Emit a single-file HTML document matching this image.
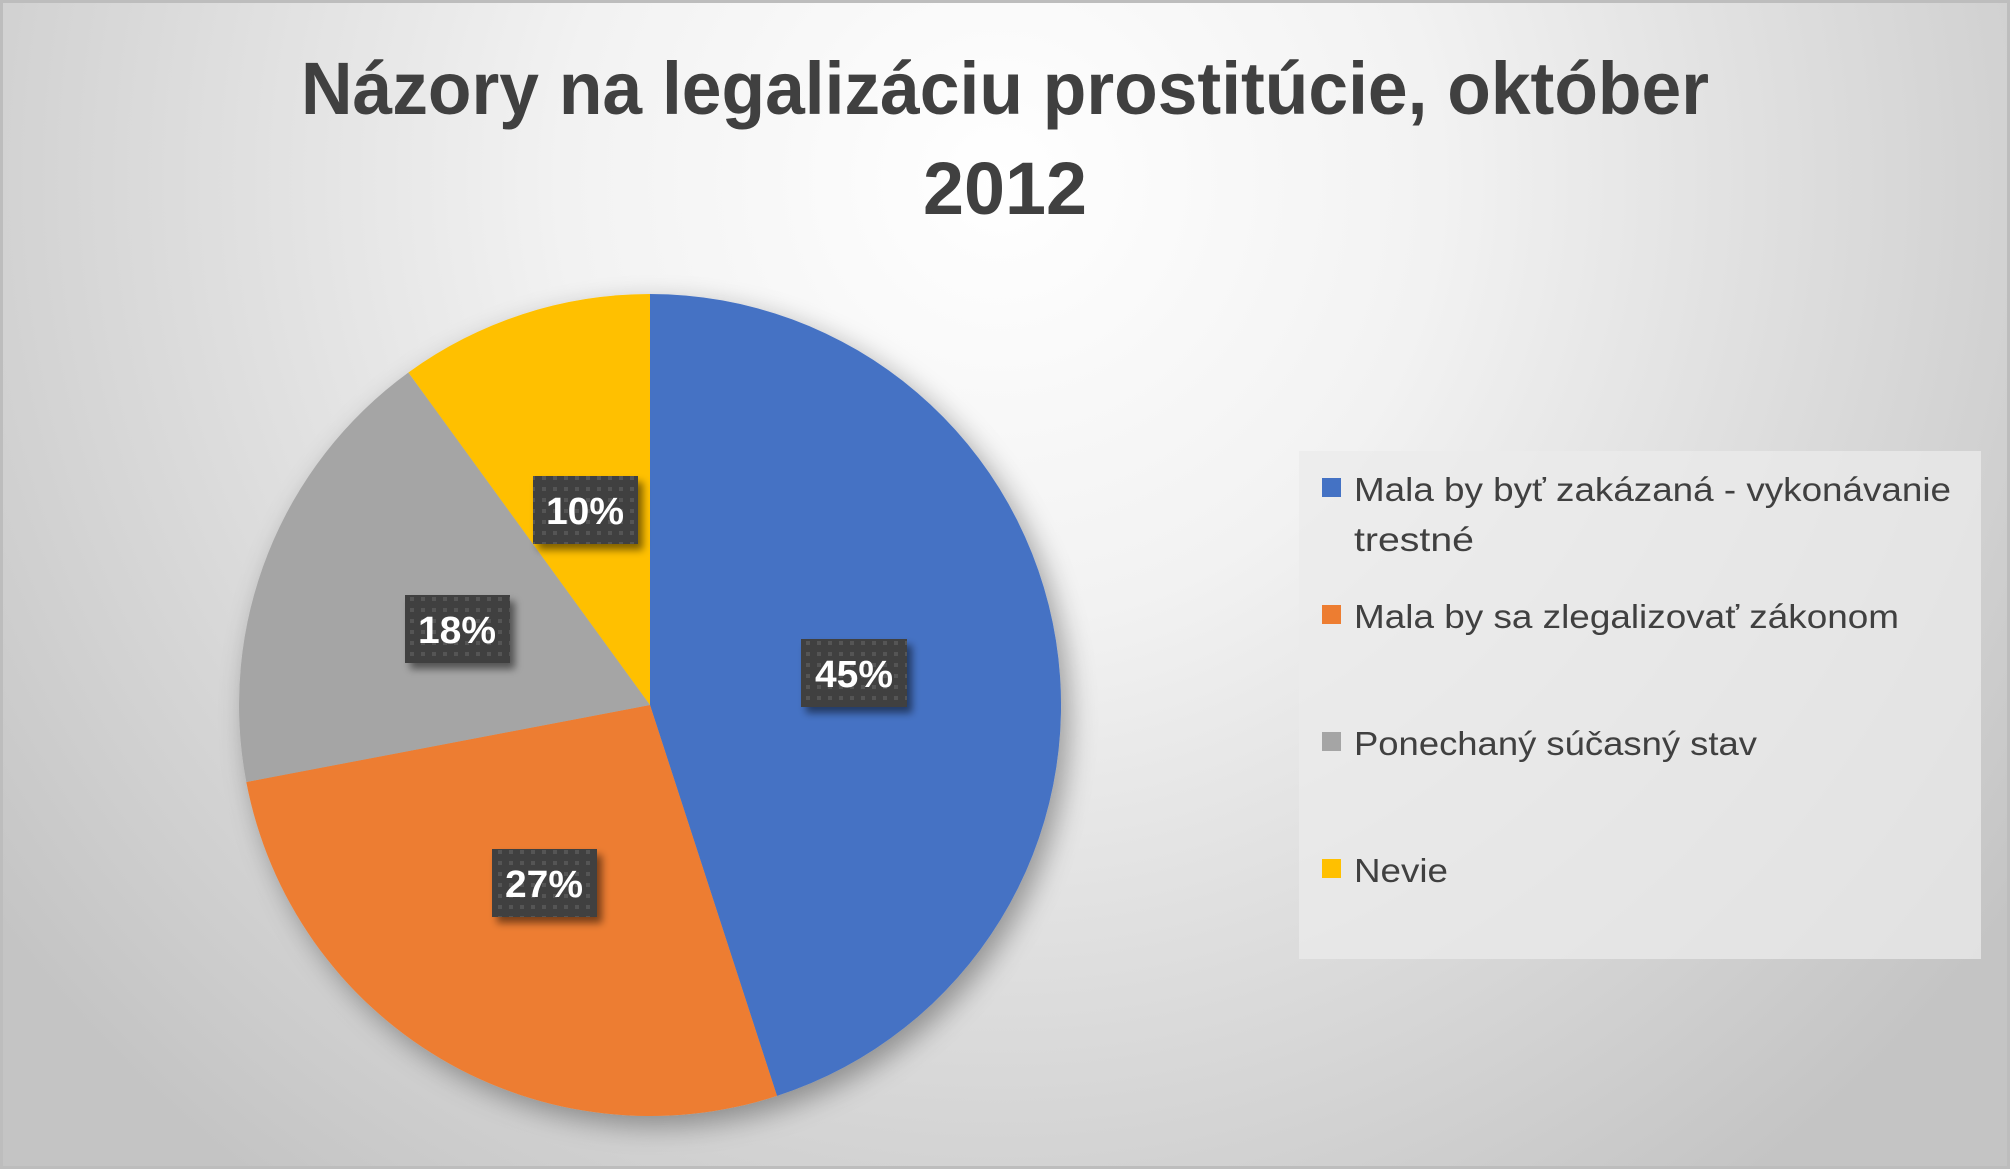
<!DOCTYPE html>
<html><head><meta charset="utf-8"><style>
html,body{margin:0;padding:0}
body{width:2010px;height:1169px;overflow:hidden}
</style></head><body>
<svg width="2010" height="1169" viewBox="0 0 2010 1169" xmlns="http://www.w3.org/2000/svg">
<defs>
<radialGradient id="bg" cx="1000" cy="180" r="1250" gradientUnits="userSpaceOnUse">
<stop offset="0" stop-color="#ffffff"/>
<stop offset="0.35" stop-color="#f2f2f2"/>
<stop offset="1" stop-color="#c4c4c4"/>
</radialGradient>
<pattern id="dots" width="11" height="11" patternUnits="userSpaceOnUse">
<rect width="11" height="11" fill="#404040"/>
<rect x="3" y="3" width="4" height="4" fill="#555"/>
</pattern>
<filter id="sh" x="-20%" y="-20%" width="140%" height="140%">
<feGaussianBlur in="SourceAlpha" stdDeviation="14"/>
<feOffset dx="8" dy="10"/>
<feComponentTransfer><feFuncA type="linear" slope="0.35"/></feComponentTransfer>
<feMerge><feMergeNode/><feMergeNode in="SourceGraphic"/></feMerge>
</filter>
<filter id="sh2" x="-30%" y="-30%" width="160%" height="160%">
<feGaussianBlur in="SourceAlpha" stdDeviation="4"/>
<feOffset dx="5" dy="6"/>
<feComponentTransfer><feFuncA type="linear" slope="0.5"/></feComponentTransfer>
<feMerge><feMergeNode/><feMergeNode in="SourceGraphic"/></feMerge>
</filter>
</defs>
<rect x="0" y="0" width="2010" height="1169" fill="url(#bg)"/>
<rect x="1.5" y="1.5" width="2007" height="1166" fill="none" stroke="#bdbdbd" stroke-width="3"/>
<g font-family="Liberation Sans, sans-serif" font-weight="bold" fill="#404040" font-size="74" text-anchor="middle">
<text x="1005" y="114" textLength="1408" lengthAdjust="spacingAndGlyphs">Názory na legalizáciu prostitúcie, október</text>
<text x="1005" y="214" textLength="164" lengthAdjust="spacingAndGlyphs">2012</text>
</g>
<g filter="url(#sh)">
<path d="M650,705 L650,294 A411,411 0 0 1 777,1095.9 Z" fill="#4472c4"/>
<path d="M650,705 L777,1095.9 A411,411 0 0 1 246.3,782 Z" fill="#ed7d31"/>
<path d="M650,705 L246.3,782 A411,411 0 0 1 408.4,372.5 Z" fill="#a5a5a5"/>
<path d="M650,705 L408.4,372.5 A411,411 0 0 1 650,294 Z" fill="#ffc000"/>
</g>
<g font-family="Liberation Sans, sans-serif" font-weight="bold" fill="#fff" font-size="38" text-anchor="middle">
<rect x="533" y="476" width="105" height="68" fill="url(#dots)" filter="url(#sh2)"/>
<text x="585" y="524" textLength="78" lengthAdjust="spacingAndGlyphs">10%</text>
<rect x="801" y="639" width="106" height="68" fill="url(#dots)" filter="url(#sh2)"/>
<text x="854" y="687" textLength="78" lengthAdjust="spacingAndGlyphs">45%</text>
<rect x="405" y="595" width="105" height="68" fill="url(#dots)" filter="url(#sh2)"/>
<text x="457" y="643" textLength="78" lengthAdjust="spacingAndGlyphs">18%</text>
<rect x="492" y="849" width="105" height="68" fill="url(#dots)" filter="url(#sh2)"/>
<text x="544" y="897" textLength="78" lengthAdjust="spacingAndGlyphs">27%</text>
</g>
<rect x="1299" y="451" width="682" height="508" fill="#ebebeb" fill-opacity="0.75"/>
<rect x="1322" y="478" width="19" height="19" fill="#4472c4"/>
<rect x="1322" y="605" width="19" height="19" fill="#ed7d31"/>
<rect x="1322" y="732" width="19" height="19" fill="#a5a5a5"/>
<rect x="1322" y="859" width="19" height="19" fill="#ffc000"/>
<g font-family="Liberation Sans, sans-serif" fill="#404040" font-size="33">
<text x="1354" y="501" textLength="597" lengthAdjust="spacingAndGlyphs">Mala by byť zakázaná - vykonávanie</text>
<text x="1354" y="551" textLength="120" lengthAdjust="spacingAndGlyphs">trestné</text>
<text x="1354" y="628" textLength="545" lengthAdjust="spacingAndGlyphs">Mala by sa zlegalizovať zákonom</text>
<text x="1354" y="755" textLength="403" lengthAdjust="spacingAndGlyphs">Ponechaný súčasný stav</text>
<text x="1354" y="882" textLength="94" lengthAdjust="spacingAndGlyphs">Nevie</text>
</g>
</svg>
</body></html>
